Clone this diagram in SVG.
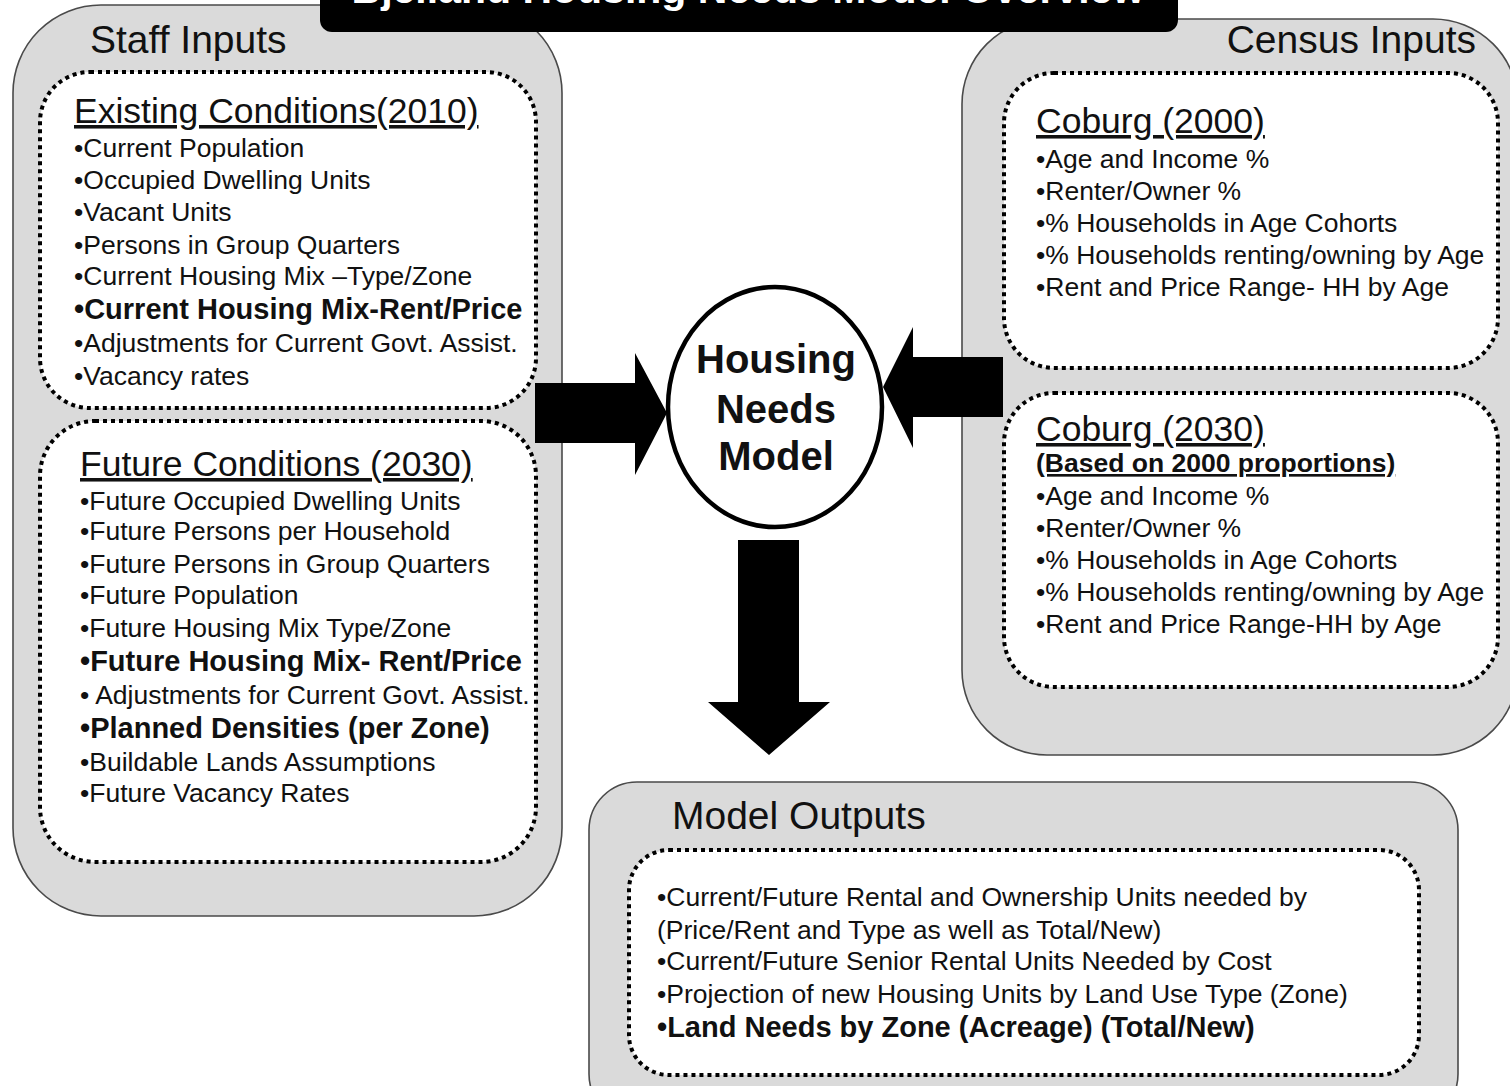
<svg xmlns="http://www.w3.org/2000/svg" width="1510" height="1086" viewBox="0 0 1510 1086">
  <style>
    .panel { fill: #dadada; stroke: #4a4a4a; stroke-width: 1.6; }
    .dotbox { fill: #ffffff; stroke: #000000; stroke-width: 4; stroke-dasharray: 4 4; }
    .head { font-family: "Liberation Sans", Arial, sans-serif; font-size: 39px; fill: #111111; }
    .sub { font-family: "Liberation Sans", Arial, sans-serif; font-size: 35.5px; fill: #111111; text-decoration: underline; }
    .item { font-family: "Liberation Sans", Arial, sans-serif; font-size: 26.5px; fill: #111111; }
    .itemb { font-family: "Liberation Sans", Arial, sans-serif; font-size: 29px; font-weight: bold; fill: #111111; }
    .note { font-family: "Liberation Sans", Arial, sans-serif; font-size: 26.5px; font-weight: bold; fill: #111111; text-decoration: underline; }
    .model { font-family: "Liberation Sans", Arial, sans-serif; font-size: 40px; font-weight: bold; fill: #111111; text-anchor: middle; }
    .title { font-family: "Liberation Sans", Arial, sans-serif; font-size: 41px; font-weight: bold; fill: #ffffff; text-anchor: middle; }
    .arrow { fill: #000000; stroke: none; }
  </style>

  <rect width="1510" height="1086" fill="#ffffff"/>

  <!-- Staff inputs panel -->
  <g id="staff-inputs">
    <rect class="panel" x="13" y="5" width="549" height="911" rx="88" ry="88"/>
    <text class="head" x="90" y="53">Staff Inputs</text>
  </g>

  <!-- Census inputs panel -->
  <g id="census-inputs">
    <rect class="panel" x="962" y="19" width="556" height="736" rx="85" ry="85"/>
    <text class="head" x="1476" y="53" text-anchor="end">Census Inputs</text>
  </g>

  <!-- Title banner -->
  <g id="title">
    <rect x="320" y="-30" width="858" height="62" rx="12" ry="12" fill="#000000"/>
    <text class="title" x="748" y="3">Bjelland Housing Needs Model Overview</text>
  </g>

  <!-- Existing conditions -->
  <g id="existing-conditions">
    <rect class="dotbox" x="40" y="72" width="496" height="336" rx="50" ry="50"/>
    <text class="sub" x="74" y="123">Existing Conditions(2010)</text>
    <text class="item" x="74" y="157">•Current Population</text>
    <text class="item" x="74" y="189">•Occupied Dwelling Units</text>
    <text class="item" x="74" y="221">•Vacant Units</text>
    <text class="item" x="74" y="254">•Persons in Group Quarters</text>
    <text class="item" x="74" y="285">•Current Housing Mix –Type/Zone</text>
    <text class="itemb" x="74" y="319">•Current Housing Mix-Rent/Price</text>
    <text class="item" x="74" y="352">•Adjustments for Current Govt. Assist.</text>
    <text class="item" x="74" y="385">•Vacancy rates</text>
  </g>

  <!-- Future conditions -->
  <g id="future-conditions">
    <rect class="dotbox" x="40" y="421" width="496" height="441" rx="55" ry="55"/>
    <text class="sub" x="80" y="476">Future Conditions (2030)</text>
    <text class="item" x="80" y="510">•Future Occupied Dwelling Units</text>
    <text class="item" x="80" y="540">•Future Persons per Household</text>
    <text class="item" x="80" y="573">•Future Persons in Group Quarters</text>
    <text class="item" x="80" y="604">•Future Population</text>
    <text class="item" x="80" y="637">•Future Housing Mix Type/Zone</text>
    <text class="itemb" x="80" y="671">•Future Housing Mix- Rent/Price</text>
    <text class="item" x="80" y="704">• Adjustments for Current Govt. Assist.</text>
    <text class="itemb" x="80" y="738">•Planned Densities (per Zone)</text>
    <text class="item" x="80" y="771">•Buildable Lands Assumptions</text>
    <text class="item" x="80" y="802">•Future Vacancy Rates</text>
  </g>

  <!-- Coburg 2000 -->
  <g id="coburg-2000">
    <rect class="dotbox" x="1004" y="73" width="494" height="295" rx="50" ry="50"/>
    <text class="sub" x="1036" y="133">Coburg (2000)</text>
    <text class="item" x="1036" y="168">•Age and Income %</text>
    <text class="item" x="1036" y="200">•Renter/Owner %</text>
    <text class="item" x="1036" y="232">•% Households in Age Cohorts</text>
    <text class="item" x="1036" y="264">•% Households renting/owning by Age</text>
    <text class="item" x="1036" y="296">•Rent and Price Range- HH by Age</text>
  </g>

  <!-- Coburg 2030 -->
  <g id="coburg-2030">
    <rect class="dotbox" x="1004" y="393" width="494" height="294" rx="50" ry="50"/>
    <text class="sub" x="1036" y="441">Coburg (2030)</text>
    <text class="note" x="1036" y="472">(Based on 2000 proportions)</text>
    <text class="item" x="1036" y="505">•Age and Income %</text>
    <text class="item" x="1036" y="537">•Renter/Owner %</text>
    <text class="item" x="1036" y="569">•% Households in Age Cohorts</text>
    <text class="item" x="1036" y="601">•% Households renting/owning by Age</text>
    <text class="item" x="1036" y="633">•Rent and Price Range-HH by Age</text>
  </g>

  <!-- Central model -->
  <g id="housing-needs-model">
    <ellipse cx="775" cy="407" rx="107" ry="120" fill="#ffffff" stroke="#000000" stroke-width="4.5"/>
    <text class="model" x="776" y="373">Housing</text>
    <text class="model" x="776" y="423">Needs</text>
    <text class="model" x="776" y="470">Model</text>
  </g>

  <!-- Model outputs -->
  <g id="model-outputs">
    <rect class="panel" x="589" y="782" width="869" height="340" rx="48" ry="48"/>
    <text class="head" x="672" y="829">Model Outputs</text>
    <rect class="dotbox" x="629" y="850" width="790" height="225" rx="40" ry="40"/>
    <text class="item" x="657" y="906">•Current/Future Rental and Ownership Units needed by</text>
    <text class="item" x="657" y="939">(Price/Rent and Type as well as Total/New)</text>
    <text class="item" x="657" y="970">•Current/Future Senior Rental Units Needed by Cost</text>
    <text class="item" x="657" y="1003">•Projection of new Housing Units by Land Use Type (Zone)</text>
    <text class="itemb" x="657" y="1037">•Land Needs by Zone (Acreage) (Total/New)</text>
  </g>

  <!-- Block arrows into and out of the model -->
  <g id="connectors">
    <path class="arrow" d="M535,383 H635 V353 L667,413 L635,475 V443 H535 Z"/>
    <path class="arrow" d="M1003,357 H913 V327 L883,387 L913,448 V417 H1003 Z"/>
    <path class="arrow" d="M738,540 H799 V702 H830 L769,755 L708,702 H738 Z"/>
  </g>
</svg>
